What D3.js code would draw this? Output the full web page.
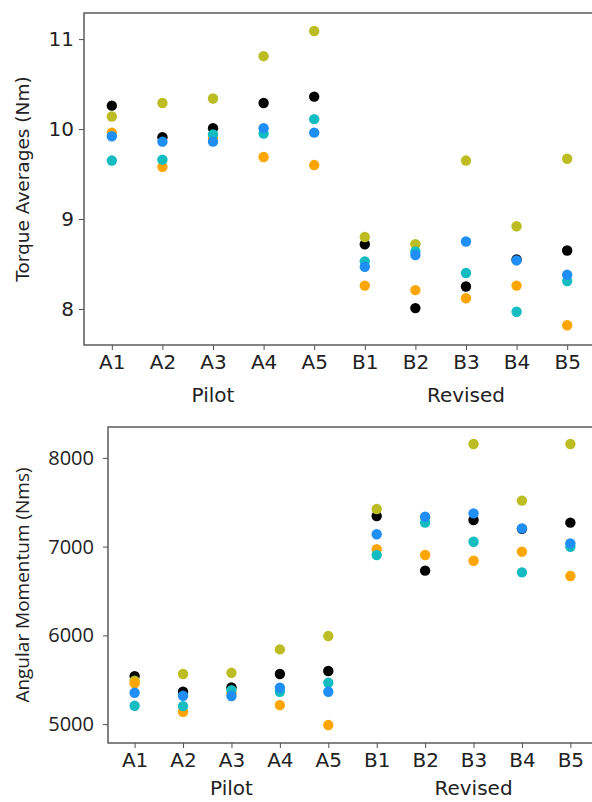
<!DOCTYPE html>
<html>
<head>
<meta charset="utf-8">
<script src="https://cdn.jsdelivr.net/npm/d3@7"></script>
<style>
  body { margin: 0; background: #fff; }
  svg { display: block; }
</style>
</head>
<body>
<div id="chart-area"></div>
<script>
// categories
const trials = ["A1", "A2", "A3", "A4", "A5", "B1", "B2", "B3", "B4", "B5"]
const groups = [
    {name: "Pilot", mid: "A3"},
    {name: "Revised", mid: "B3"}
]
const seriesNames = ["black", "olive", "orange", "cyan", "blue"]
const seriesColors = ["#000000", "#bcbd22", "#ffa500", "#12bcc0", "#1f8ff5"]

// torque averages (Nm), one array per series
const torqueBlack  = [10.26, 9.91, 10.01, 10.29, 10.36, 8.72, 8.01, 8.25, 8.55, 8.65]
const torqueOlive  = [10.14, 10.29, 10.34, 10.81, 11.09, 8.80, 8.72, 9.65, 8.92, 9.67]
const torqueOrange = [9.96, 9.58, 9.90, 9.69, 9.60, 8.26, 8.21, 8.12, 8.26, 7.82]
const torqueCyan   = [9.65, 9.66, 9.94, 9.95, 10.11, 8.53, 8.64, 8.40, 7.97, 8.31]
const torqueBlue   = [9.92, 9.86, 9.86, 10.01, 9.96, 8.47, 8.60, 8.75, 8.54, 8.38]
const torqueTicks  = [8, 9, 10, 11]

// angular momentum (Nms)
const momBlack  = [5541, 5364, 5414, 5564, 5598, 7345, 6729, 7300, 7200, 7270]
const momOlive  = [5488, 5564, 5578, 5842, 5992, 7424, 7330, 8157, 7518, 8157]
const momOrange = [5460, 5139, 5350, 5214, 4989, 6970, 6905, 6841, 6943, 6669]
const momCyan   = [5206, 5203, 5383, 5364, 5466, 6905, 7270, 7055, 6710, 6999]
const momBlue   = [5353, 5319, 5316, 5410, 5364, 7139, 7337, 7375, 7206, 7037]
const momTicks  = [5000, 6000, 7000, 8000]

const svg = d3.select("#chart-area").append("svg")
    .attr("width", 592)
    .attr("height", 802)

function drawPanel(opts) {
    const {left, right, top, bottom, yDomain, yTicks, series, yLabel, yFont} = opts

    const x = d3.scalePoint()
        .domain(trials)
        .range([left, right])
        .padding(0.55)

    const y = d3.scaleLinear()
        .domain(yDomain)
        .range([bottom, top])

    const g = svg.append("g")

    // points
    series.forEach((vals, si) => {
        g.selectAll(null)
            .data(vals)
            .enter()
            .append("circle")
            .attr("cx", (d, i) => x(trials[i]))
            .attr("cy", d => y(d))
            .attr("r", 5.2)
            .attr("fill", seriesColors[si])
    })

    // spines
    g.append("rect")
        .attr("x", left)
        .attr("y", top)
        .attr("width", right - left)
        .attr("height", bottom - top)
        .attr("fill", "none")
        .attr("stroke", "#505050")
        .attr("stroke-width", 1.4)

    const xAxis = g.append("g")
        .attr("transform", `translate(0, ${bottom})`)
        .call(d3.axisBottom(x).tickSize(5).tickPadding(5))
    xAxis.select(".domain").remove()
    xAxis.selectAll("line").attr("stroke", "#505050")
    xAxis.selectAll("text")
        .attr("font-family", "DejaVu Sans")
        .attr("font-size", "20px")
        .attr("fill", "#222")

    const yAxis = g.append("g")
        .attr("transform", `translate(${left}, 0)`)
        .call(d3.axisLeft(y).tickValues(yTicks).tickFormat(d3.format("d"))
            .tickSize(5).tickPadding(opts.yPad))
    yAxis.select(".domain").remove()
    yAxis.selectAll("line").attr("stroke", "#505050")
    yAxis.selectAll("text")
        .attr("font-family", yFont)
        .attr("font-size", "20px")
        .attr("fill", "#222")

    // group labels
    g.selectAll(".group-label")
        .data(groups)
        .enter()
        .append("text")
        .attr("class", "group-label")
        .attr("x", d => x(d.mid))
        .attr("y", bottom + opts.groupOffset)
        .attr("text-anchor", "middle")
        .attr("font-family", "DejaVu Sans")
        .attr("font-size", "20px")
        .attr("fill", "#222")
        .text(d => d.name)

    // Y label
    g.append("text")
        .attr("x", -(top + bottom) / 2)
        .attr("y", 29)
        .attr("transform", "rotate(-90)")
        .attr("text-anchor", "middle")
        .attr("font-family", yFont)
        .attr("font-size", opts.labelSize)
        .attr("fill", "#222")
        .text(yLabel)
}

drawPanel({
    left: 84, right: 595, top: 13, bottom: 345,
    yDomain: [7.6, 11.29],
    yTicks: torqueTicks,
    yPad: 5,
    groupOffset: 57,
    labelSize: "18.5px",
    series: [torqueBlack, torqueOlive, torqueOrange, torqueCyan, torqueBlue],
    yLabel: "Torque Averages (Nm)",
    yFont: "DejaVu Sans"
})

drawPanel({
    left: 108, right: 597, top: 427, bottom: 743,
    yDomain: [4787, 8348],
    yTicks: momTicks,
    yPad: 9,
    groupOffset: 52,
    labelSize: "19px",
    series: [momBlack, momOlive, momOrange, momCyan, momBlue],
    yLabel: "Angular Momentum (Nms)",
    yFont: "Open Sans"
})
</script>
</body>
</html>
